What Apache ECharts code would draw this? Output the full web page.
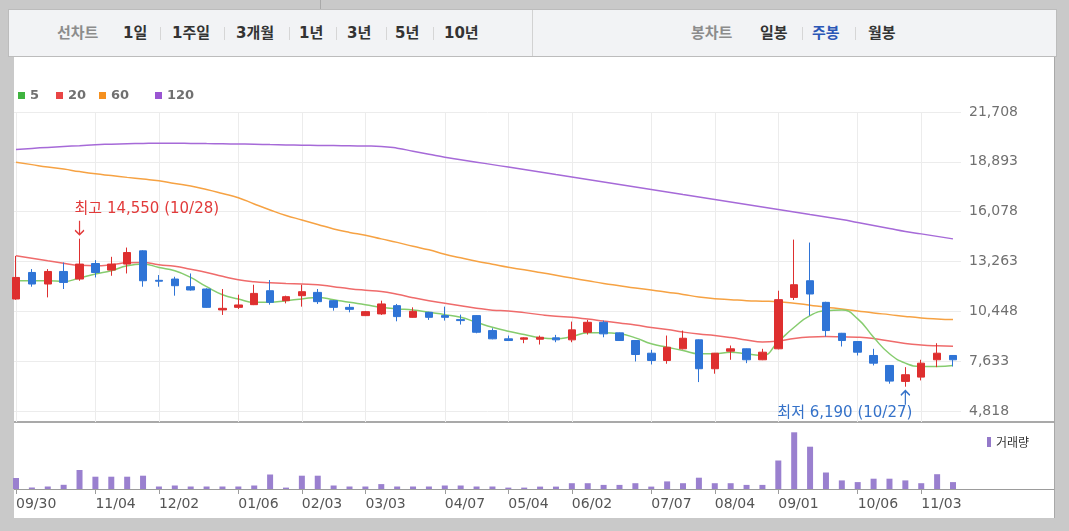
<!DOCTYPE html>
<html><head><meta charset="utf-8">
<script src="https://cdn.jsdelivr.net/npm/echarts@6/dist/echarts.min.js"></script>
<style>
html,body{margin:0;padding:0;width:1069px;height:531px;overflow:hidden;background:#c9c9c9;font-family:"DejaVu Sans","Noto Sans CJK KR",sans-serif;}
#bar{position:absolute;left:8px;top:9px;width:1047px;height:46px;background:#f2f3f5;border:1px solid #bcbcbc;}
#panel{position:absolute;left:14px;top:57px;width:1040px;height:461px;background:#fff;border-right:1px solid #a8a8a8;}
#chart{position:absolute;left:0;top:0;width:1069px;height:531px;}
.it{position:absolute;top:9px;height:48px;line-height:48px;font-size:15px;font-weight:bold;color:#333;white-space:nowrap;}
.g{color:#8c8c8c;}
.b{color:#2b57b6;}
.sep{position:absolute;top:27px;width:1px;height:13px;background:#d6d6d6;}
.hl{position:absolute;left:14px;width:1040px;}
</style></head>
<body>
<div style="position:absolute;left:320px;top:0;width:1px;height:9px;background:#a9a9a9"></div>
<div id="bar"></div>
<div style="position:absolute;left:532px;top:10px;width:1px;height:46px;background:#d2d2d2"></div>
<div class="it g" style="left:57px">선차트</div>
<div class="it" style="left:123px">1일</div>
<div class="sep" style="left:160px"></div>
<div class="it" style="left:172px">1주일</div>
<div class="sep" style="left:224px"></div>
<div class="it" style="left:236px">3개월</div>
<div class="sep" style="left:289px"></div>
<div class="it" style="left:299px">1년</div>
<div class="sep" style="left:336px"></div>
<div class="it" style="left:347px">3년</div>
<div class="sep" style="left:386px"></div>
<div class="it" style="left:395px">5년</div>
<div class="sep" style="left:433px"></div>
<div class="it" style="left:444px">10년</div>
<div class="it g" style="left:691px">봉차트</div>
<div class="it" style="left:760px">일봉</div>
<div class="sep" style="left:802px"></div>
<div class="it b" style="left:812px">주봉</div>
<div class="sep" style="left:855px"></div>
<div class="it" style="left:868px">월봉</div>
<div id="panel"></div>
<div class="hl" style="top:421px;height:2px;background:#a9a9a9"></div>
<div class="hl" style="top:489px;height:1px;background:#9c9c9c"></div>
<div id="chart"></div>
<script>
const categories = ['09/30','10/07','10/14','10/21','10/28','11/04','11/11','11/18','11/25','12/02',
 '12/09','12/16','12/23','12/30','01/06','01/13','01/20','01/27','02/03','02/10',
 '02/17','02/24','03/03','03/10','03/17','03/24','03/31','04/07','04/14','04/21',
 '04/28','05/04','05/12','05/19','05/26','06/02','06/09','06/16','06/23','06/30',
 '07/07','07/14','07/21','07/28','08/04','08/11','08/18','08/25','09/01','09/08',
 '09/15','09/22','09/29','10/06','10/13','10/20','10/27','11/03','11/10','11/17'];
const tickLabels = ['09/30','11/04','12/02','01/06','02/03','03/03','04/07','05/04','06/02','07/07','08/04','09/01','10/06','11/03'];
const priceMin = 4818, priceMax = 21708, priceStep = 2815;

const openP  = [11146,12644,11991,12700,12272,13150,12779,13117,13865,12200,12272,11839,11709,10527,10673,10825,11613,11050,11332,11518,
 11050,10673,10206,10302,10769,10110,10392,10206,9981,10206,9361,8894,8872,8872,8950,8838,9266,9829,9232,8799,
 8083,7672,8331,8838,7205,8196,8331,7712,8331,11236,12176,10955,9209,8742,7954,7391,6490,6732,7712,7954];
const closeP = [12362,11991,12700,12081,13117,12644,13117,13770,12176,12150,11895,11653,10673,10617,10808,11461,10955,11276,11557,10994,
 10673,10561,10431,10865,10150,10448,10110,10110,9925,9266,8894,8799,8950,8984,8838,9401,9829,9176,8799,8010,
 7672,8421,8928,7205,8083,8331,7712,8140,11107,11951,11427,9361,8799,8140,7520,6507,6867,7520,8083,7712];
const lowP   = [11100,11839,11236,11709,12176,12362,12458,12587,11839,11839,11332,11620,10650,10245,10583,10800,10825,10898,10713,10865,
 10487,10392,10180,10245,9885,10090,9964,9925,9699,9209,8870,8780,8647,8573,8703,8703,9136,8984,8780,7616,
 7447,7487,8300,6451,6924,7712,7520,7690,8300,11090,10206,9024,8461,7954,7391,6361,6190,6546,7295,7335];
const highP  = [13580,12835,12835,13207,14550,13342,13528,14051,13900,12497,12402,12587,11750,11709,11388,11951,12216,11332,11951,11709,
 11080,10865,10470,11050,10865,10673,10420,10713,10262,10230,9491,9080,8984,9080,9119,9868,9964,9925,9250,8820,
 8275,9080,9361,8860,8100,8517,8350,8331,11613,14500,14333,10990,9230,8760,8331,7410,7295,7712,8647,7970];

const ma5 = [12176,12176,12180,12137,12328,12554,12739,13021,13117,12925,12739,12362,11839,11388,11146,10955,10955,11050,11146,11236,
 11107,10955,10825,10673,10583,10527,10392,10262,10110,9829,9547,9322,9136,8950,8894,9024,9232,9232,9176,8950,
 8613,8421,8235,8050,8050,8140,8050,7954,8742,9547,10206,10487,10527,10020,8984,8050,7520,7335,7335,7391];
const ma20 = [13584,13443,13302,13162,13049,13021,13077,13190,13207,13077,12993,12824,12644,12430,12233,12120,12064,12024,11991,11951,
 11839,11726,11642,11574,11416,11219,11050,10910,10769,10628,10516,10471,10375,10262,10167,10110,10009,9896,9784,9671,
 9530,9418,9277,9164,9080,8967,8827,8714,8770,8911,8995,9024,9007,8984,8911,8770,8630,8545,8500,8478];
const ma60 = [18876,18735,18595,18482,18341,18217,18116,18015,17919,17818,17666,17525,17328,17103,16866,16512,16174,15864,15611,15357,
 15104,14907,14749,14541,14344,14119,13922,13668,13471,13274,13105,12936,12796,12644,12486,12328,12176,12024,11895,11765,
 11653,11529,11405,11259,11163,11107,11050,11022,10994,10910,10797,10684,10583,10471,10358,10262,10161,10076,10020,9981];
const ma120 = [19591,19653,19709,19760,19805,19861,19890,19918,19935,19946,19946,19935,19923,19912,19901,19890,19867,19850,19833,19822,
 19811,19799,19788,19766,19664,19495,19327,19158,19017,18876,18735,18595,18454,18313,18172,18032,17891,17750,17609,17469,
 17328,17187,17046,16906,16765,16624,16483,16343,16202,16061,15920,15780,15639,15470,15301,15132,14963,14823,14682,14541];
const volume = [11000,1500,2500,4200,19000,12300,12300,12300,13300,2500,3500,2500,2500,2500,2500,3500,14500,1400,13300,13300,
 3500,2500,2500,4900,2500,2500,2500,3500,3500,2500,2500,1400,1400,2400,2400,5800,5800,4100,4100,5800,
 2400,7600,5800,11300,5800,5800,4100,4100,28500,56700,42300,16500,8600,6900,10300,10300,8600,5800,14800,6900];

const RED = '#de2f2f', BLUE = '#2f74d6';
const FONT = 'DejaVu Sans, Noto Sans CJK KR, sans-serif';
const candleData = categories.map((c, i) => [openP[i], closeP[i], lowP[i], highP[i]]);
const showTick = (i) => tickLabels.indexOf(categories[i]) >= 0;

const chart = echarts.init(document.getElementById('chart'), null, {renderer: 'canvas'});
function legendAt(left, name, color) {
  return {left: left, top: 89, padding: 0, icon: 'rect', itemWidth: 7, itemHeight: 7, itemGap: 0, selectedMode: false,
    data: [{name: name, itemStyle: {color: color}}],
    textStyle: {fontFamily: FONT, fontSize: 13, fontWeight: 'bold', color: '#707070', padding: [0, 0, 0, 0]}};
}
const option = {
  animation: false,
  backgroundColor: 'transparent',
  legend: [
    legendAt(18, '5', '#3fb33f'),
    legendAt(56, '20', '#e94545'),
    legendAt(99, '60', '#f5901f'),
    legendAt(155, '120', '#9a55d2'),
    {left: 987, top: 436, padding: 0, icon: 'rect', itemWidth: 4, itemHeight: 10, selectedMode: false,
     data: [{name: '거래량', itemStyle: {color: '#9479c9'}}],
     textStyle: {fontFamily: 'Noto Sans CJK KR, sans-serif', fontSize: 12, color: '#333'}}
  ],
  grid: [
    {left: 16, right: 116, top: 112, height: 299},   // candles
    {left: 14, right: 108, top: 112, height: 299},   // price labels & horizontal lines
    {left: 16, right: 116, top: 112, height: 310},   // vertical lines
    {left: 16, right: 116, top: 424, height: 65}     // volume
  ],
  xAxis: [
    {gridIndex: 0, type: 'category', data: categories, boundaryGap: false, show: false},
    {gridIndex: 1, type: 'value', show: false, min: 0, max: 1},
    {gridIndex: 2, type: 'category', data: categories, boundaryGap: false,
     axisLine: {show: false}, axisTick: {show: false}, axisLabel: {show: false},
     splitLine: {show: true, interval: (i) => showTick(i), lineStyle: {color: '#ececec', width: 1}}},
    {gridIndex: 3, type: 'category', data: categories, boundaryGap: false,
     axisLine: {show: false},
     axisTick: {show: true, interval: (i) => showTick(i), length: 5, lineStyle: {color: '#9c9c9c'}},
     axisLabel: {show: true, interval: (i) => showTick(i), align: 'left', margin: 8,
       fontFamily: FONT, fontSize: 14, color: '#555'},
     splitLine: {show: false}}
  ],
  yAxis: [
    {gridIndex: 0, type: 'value', min: priceMin, max: priceMax, show: false},
    {gridIndex: 1, type: 'value', position: 'right', min: priceMin, max: priceMax, interval: priceStep,
     axisLine: {show: false}, axisTick: {show: false},
     axisLabel: {margin: 8, fontFamily: FONT, fontSize: 14, color: '#707070',
       formatter: (v) => v.toLocaleString('en-US')},
     splitLine: {show: true, lineStyle: {color: '#ececec', width: 1}}},
    {gridIndex: 2, type: 'value', show: false},
    {gridIndex: 3, type: 'value', min: 0, max: 65000, show: false}
  ],
  series: [
    {name: '120', type: 'line', xAxisIndex: 0, yAxisIndex: 0, data: ma120, smooth: true, symbol: 'none',
     lineStyle: {color: '#a66ad8', width: 1.5}, itemStyle: {color: '#a66ad8'}, z: 1},
    {name: '60', type: 'line', xAxisIndex: 0, yAxisIndex: 0, data: ma60, smooth: true, symbol: 'none',
     lineStyle: {color: '#f6a243', width: 1.5}, itemStyle: {color: '#f6a243'}, z: 1},
    {name: '20', type: 'line', xAxisIndex: 0, yAxisIndex: 0, data: ma20, smooth: true, symbol: 'none',
     lineStyle: {color: '#ef6b6b', width: 1.5}, itemStyle: {color: '#ef6b6b'}, z: 1},
    {name: '5', type: 'line', xAxisIndex: 0, yAxisIndex: 0, data: ma5, smooth: true, symbol: 'none',
     lineStyle: {color: '#86cc6e', width: 1.5}, itemStyle: {color: '#86cc6e'}, z: 1},
    {name: 'price', type: 'candlestick', xAxisIndex: 0, yAxisIndex: 0, data: candleData, barWidth: 8, clip: false, z: 3,
     itemStyle: {color: RED, color0: BLUE, borderColor: RED, borderColor0: BLUE, borderWidth: 1},
     markPoint: {
       silent: true,
       data: [
         {coord: ['10/28', 14550], symbol: 'path://M5 0 L5 14 M1.5 9.5 L5 14 L8.5 9.5', symbolSize: [9, 14],
          symbolOffset: [0, -11], itemStyle: {color: 'none', borderColor: '#e23a3a', borderWidth: 1.5},
          label: {show: false}},
         {coord: ['10/28', 14550], symbol: 'circle', symbolSize: 1, itemStyle: {color: 'rgba(0,0,0,0)'},
          label: {show: true, position: 'inside', align: 'left', verticalAlign: 'middle', offset: [-5, -30],
            formatter: '최고 14,550 (10/28)', fontFamily: FONT, fontSize: 15, color: '#e23a3a'}},
         {coord: ['10/27', 6190], symbol: 'path://M5 14 L5 0 M1.5 4.5 L5 0 L8.5 4.5', symbolSize: [9, 14],
          symbolOffset: [0, 11], itemStyle: {color: 'none', borderColor: '#3572c9', borderWidth: 1.5},
          label: {show: false}},
         {coord: ['10/27', 6190], symbol: 'circle', symbolSize: 1, itemStyle: {color: 'rgba(0,0,0,0)'},
          label: {show: true, position: 'inside', align: 'right', verticalAlign: 'middle', offset: [7, 26],
            formatter: '최저 6,190 (10/27)', fontFamily: FONT, fontSize: 15, color: '#3572c9'}}
       ]
     }},
    {name: '거래량', type: 'bar', xAxisIndex: 3, yAxisIndex: 3, data: volume, barWidth: 6,
     itemStyle: {color: '#9a80cf'}}
  ]
};
chart.setOption(option);
</script>
</body></html>
